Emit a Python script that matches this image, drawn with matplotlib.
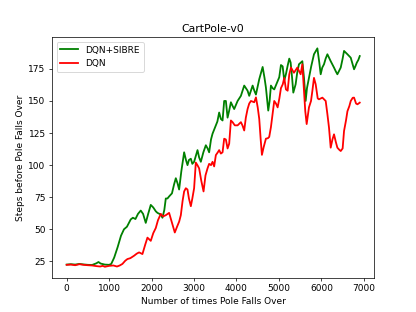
import matplotlib
matplotlib.use("Agg")
import matplotlib.pyplot as plt

# DQN+SIBRE (green)
sibre_x = [0, 100, 200, 300, 400, 500, 600, 700, 750, 800, 900, 1000, 1050, 1120, 1200,
           1280, 1350, 1420, 1509, 1560, 1620, 1680, 1745, 1800, 1863, 1920, 1981, 2040,
           2100, 2139, 2217, 2256, 2300, 2335, 2374, 2413, 2480, 2530, 2571, 2610, 2649,
           2700, 2767, 2810, 2846, 2880, 2925, 2960, 3002, 3040, 3082, 3120, 3160, 3220,
           3278, 3320, 3356, 3400, 3436, 3514, 3550, 3592, 3632, 3672, 3710, 3750, 3790,
           3828, 3868, 3910, 3946, 4026, 4104, 4182, 4220, 4261, 4300, 4340, 4380, 4420,
           4458, 4536, 4616, 4660, 4693, 4748, 4780, 4811, 4850, 4889, 4950, 5007, 5047,
           5087, 5125, 5165, 5205, 5243, 5275, 5310, 5338, 5393, 5430, 5471, 5551, 5590,
           5629, 5660, 5707, 5760, 5825, 5905, 5950, 5983, 6020, 6061, 6100, 6141, 6219,
           6297, 6340, 6376, 6455, 6500, 6533, 6613, 6691, 6740, 6769, 6800, 6833, 6870,
           6903]
sibre_y = [22.5, 22.8, 22.5, 23, 22.6, 22.3, 22.2, 23.5, 24.5, 23.3, 22.5, 22.3, 23, 28, 36,
           45, 50, 52, 57.7, 59, 58, 62, 64.6, 62, 55, 62, 69, 67,
           64, 62.8, 61.5, 59, 65, 74, 74, 75.6, 78, 85, 89.8, 86, 81,
           95, 110, 104, 100, 104, 105, 101, 102.6, 107, 111.7, 106, 102.6, 110,
           115.5, 113, 110, 120, 124.5, 131, 134, 141, 136, 134.8, 150, 150, 137,
           142.5, 149, 146, 143.7, 150, 154, 162, 160, 158, 154, 158, 162, 158,
           155, 167, 176.5, 168, 160.5, 142.5, 150, 162, 160, 159, 164, 168.5, 178,
           177, 166, 171, 177.5, 183, 180, 168, 156.5, 163, 172, 178.6, 181, 168,
           150, 160, 168, 177, 186.4, 191, 180, 170.8, 176, 178.6, 183, 186.4, 181,
           176, 173, 170.8, 176, 183, 189, 186.4, 183.7, 178, 174.7, 177, 179.8, 182,
           185]

# DQN (red)
dqn_x = [0, 100, 200, 300, 400, 500, 600, 700, 790, 850, 900, 1000, 1100, 1185, 1250,
         1313, 1380, 1431, 1500, 1588, 1650, 1706, 1785, 1850, 1903, 1981, 2040, 2099,
         2150, 2217, 2270, 2335, 2413, 2480, 2547, 2600, 2650, 2689, 2730, 2767, 2807,
         2846, 2880, 2925, 2960, 3002, 3042, 3080, 3120, 3170, 3224, 3270, 3318, 3356,
         3400, 3436, 3474, 3514, 3560, 3592, 3632, 3672, 3710, 3750, 3790, 3828, 3868,
         3908, 3960, 4026, 4104, 4140, 4182, 4220, 4261, 4300, 4340, 4418, 4458, 4500,
         4536, 4570, 4599, 4640, 4693, 4740, 4771, 4811, 4850, 4889, 4930, 4969, 5010,
         5047, 5090, 5125, 5165, 5205, 5243, 5283, 5353, 5433, 5511, 5551, 5589, 5620,
         5653, 5707, 5755, 5787, 5825, 5865, 5913, 5943, 6023, 6101, 6140, 6179, 6219,
         6260, 6297, 6340, 6376, 6420, 6455, 6500, 6533, 6580, 6613, 6658, 6691, 6738,
         6769, 6816, 6849, 6903]
dqn_y = [22.3, 22.5, 22, 22.8, 22.3, 22, 21.8, 21.3, 21, 21.5, 20.8, 21.5, 21.8, 21, 21.8,
         23, 25.5, 26.8, 27.5, 29.4, 31, 32, 30.7, 38, 43.5, 41, 47, 51,
         57, 62, 60, 61, 62.8, 55, 47.5, 52, 56, 61, 72, 79.5, 82,
         81, 74, 68, 74, 82, 102, 100, 97.5, 88, 79.5, 92, 97.5, 101,
         100, 102.6, 99, 107.8, 110, 111.7, 109, 110, 120.6, 120, 113, 116.7, 134.8,
         133.5, 131, 131, 133.5, 131, 127, 137, 143.7, 148, 150, 149, 152.8, 145,
         136, 120, 108, 114, 120.6, 121, 122, 129.6, 140, 150, 148, 145, 152,
         160, 163, 168, 159, 158, 170.7, 176, 172, 176, 170.8, 178.6, 157.8, 142,
         132, 145, 150, 157.8, 168, 163, 152, 151.3, 152.6, 150, 140, 129.2, 113.6,
         120, 124, 118, 113.6, 112, 111, 113, 126.6, 135, 142, 146, 150, 152.5,
         152.6, 148, 147.4, 148.7]

fig, ax = plt.subplots(figsize=(6.4, 4.8), dpi=65)

ax.plot(sibre_x, sibre_y, color='green', linewidth=2, label='DQN+SIBRE')
ax.plot(dqn_x, dqn_y, color='red', linewidth=2, label='DQN')

ax.set_title("CartPole-v0")
ax.set_xlabel("Number of times Pole Falls Over")
ax.set_ylabel("Steps before Pole Falls Over")
ax.legend(loc='upper left')

plt.savefig("out.png", dpi=65)
plt.close()
